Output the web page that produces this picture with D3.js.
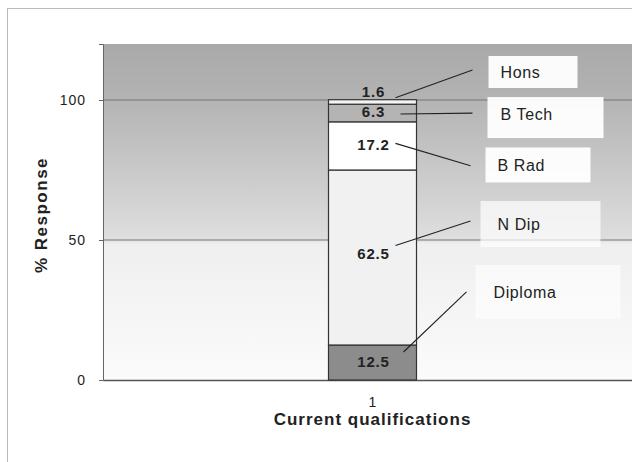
<!DOCTYPE html>
<html>
<head>
<meta charset="utf-8">
<script src="https://cdn.jsdelivr.net/npm/d3@7"></script>
<style>
  body { margin: 0; background: #fff; }
  text { font-family: "Liberation Sans", Arial, sans-serif; fill: #222; }
</style>
</head>
<body>
<div id="plot"></div>
<script>
// data
const categories = ["1"];
const series = ["Diploma", "N Dip", "B Rad", "B Tech", "Hons"];
const values = [12.5, 62.5, 17.2, 6.3, 1.6];
const yTicks = [0, 50, 100];
const fills = ["#8c8c8c", "#f1f1f1", "#ffffff", "#b4b4b4", "#f4f4f4"];

const W = 632, H = 462;
const margin = {top: 44, right: 0, bottom: 82, left: 103};
const width = W - margin.left - margin.right,
      height = H - margin.top - margin.bottom;

const svgRoot = d3.select("#plot")
  .append("svg")
  .attr("width", W)
  .attr("height", H);

// outer frame
svgRoot.append("rect")
  .attr("x", 7.5).attr("y", 8.5)
  .attr("width", W).attr("height", H)
  .attr("fill", "none")
  .attr("stroke", "#bbb");

const defs = svgRoot.append("defs");
const grad = defs.append("linearGradient")
  .attr("id", "bg").attr("x1", 0).attr("y1", 0).attr("x2", 0).attr("y2", 1);
[[0, "#a9a9a9"], [0.16, "#b3b3b3"], [0.58, "#dedede"], [0.595, "#efefef"], [1, "#fbfbfb"]]
  .forEach(s => grad.append("stop").attr("offset", s[0]).attr("stop-color", s[1]));

const svg = svgRoot.append("g")
  .attr("transform", "translate(" + margin.left + "," + margin.top + ")");

const x = d3.scaleBand().domain(categories).range([0, width]).padding(0);
const y = d3.scaleLinear().domain([0, 120]).range([height, 0]);

svg.append("rect")
  .attr("width", width).attr("height", height)
  .attr("fill", "url(#bg)");

// gridlines
svg.selectAll(".grid")
  .data(yTicks.filter(d => d > 0))
  .enter().append("line")
  .attr("x1", 0).attr("x2", width)
  .attr("y1", d => y(d)).attr("y2", d => y(d))
  .attr("stroke", "#777").attr("stroke-width", 1);

// axes
const yAxis = svg.append("g")
  .call(d3.axisLeft(y).tickValues(yTicks).tickSize(4).tickPadding(13));
yAxis.select(".domain").attr("stroke", "#666");
yAxis.selectAll(".tick line").attr("stroke", "#666");
yAxis.selectAll("text").attr("font-size", 14).attr("letter-spacing", 1).attr("fill", "#333");

const cx = x("1") + x.bandwidth() / 2 + 5;

const xAxis = svg.append("g")
  .attr("transform", "translate(0," + height + ")")
  .call(d3.axisBottom(x).tickSize(0).tickPadding(17));
xAxis.select(".domain").attr("stroke", "#555").attr("stroke-width", 1.5);
xAxis.selectAll(".tick").attr("transform", "translate(" + cx + ",0)");
xAxis.selectAll("text").attr("font-size", 14).attr("fill", "#222");

// stacked bar
const stack = [];
let acc = 0;
values.forEach((v, i) => { stack.push({name: series[i], v: v, y0: acc, y1: acc + v, fill: fills[i]}); acc += v; });

const barW = 88;

svg.selectAll(".seg")
  .data(stack)
  .enter().append("rect")
  .attr("x", cx - barW / 2)
  .attr("width", barW)
  .attr("y", d => y(d.y1))
  .attr("height", d => y(d.y0) - y(d.y1))
  .attr("fill", d => d.fill)
  .attr("stroke", "#333")
  .attr("stroke-width", 1.2);

// value labels (y positions in data units)
const labelAt = [6.5, 45, 84, 95.8, 102.8];
svg.selectAll(".val")
  .data(stack)
  .enter().append("text")
  .attr("x", (d, i) => cx + 1)
  .attr("y", (d, i) => y(labelAt[i]))
  .attr("dy", "0.35em")
  .attr("text-anchor", "middle")
  .attr("font-size", 15)
  .attr("letter-spacing", 0.8)
  .attr("font-weight", "bold")
  .text(d => d.v);

// callout boxes + leader lines, positions relative to bar centre / data units
const textAt = [31.4, 55.7, 76.8, 94.8, 110];
const textDx = [121, 125, 125, 128, 128];
const boxL = [-18, -17, -12, -13, -12];
const boxW = [145, 120, 105, 116, 89];
const boxH = [54, 46, 35, 41, 32];
const boxDy = [0, 0, 0, -3, 0];
const boxOp = [0.6, 0.7, 0.95, 0.95, 0.95];
const lineFrom = [[31, 10], [23, 48], [23, 84.5], [28, 95], [23, 100.8]];
const lineTo = [[94, 31.5], [98, 56.8], [98, 76.5], [100, 95.3], [100, 110.7]];

const callouts = svg.selectAll(".callout")
  .data(stack)
  .enter().append("g");

callouts.append("rect")
  .attr("x", (d, i) => cx + textDx[i] + boxL[i])
  .attr("y", (d, i) => y(textAt[i]) - boxH[i] / 2 - boxDy[i])
  .attr("width", (d, i) => boxW[i])
  .attr("height", (d, i) => boxH[i])
  .attr("fill", "#fff")
  .attr("opacity", (d, i) => boxOp[i]);

callouts.append("line")
  .attr("x1", (d, i) => cx + lineFrom[i][0])
  .attr("y1", (d, i) => y(lineFrom[i][1]))
  .attr("x2", (d, i) => cx + lineTo[i][0])
  .attr("y2", (d, i) => y(lineTo[i][1]))
  .attr("stroke", "#222")
  .attr("stroke-width", 1.1);

callouts.append("text")
  .attr("x", (d, i) => cx + textDx[i])
  .attr("y", (d, i) => y(textAt[i]))
  .attr("dy", "0.35em")
  .attr("font-size", 16)
  .attr("letter-spacing", 0.6)
  .text(d => d.name);

// axis titles
svgRoot.append("text")
  .attr("x", margin.left + cx)
  .attr("y", 425)
  .attr("text-anchor", "middle")
  .attr("font-size", 17)
  .attr("letter-spacing", 1)
  .attr("font-weight", "bold")
  .text("Current qualifications");

svgRoot.append("text")
  .attr("transform", "translate(47,215) rotate(-90)")
  .attr("text-anchor", "middle")
  .attr("font-size", 17)
  .attr("letter-spacing", 1.5)
  .attr("font-weight", "bold")
  .text("% Response");
</script>
</body>
</html>
